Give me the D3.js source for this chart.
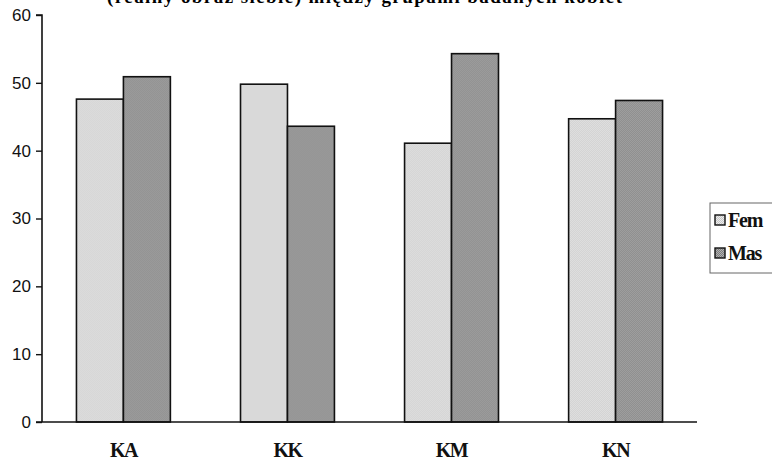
<!DOCTYPE html>
<html>
<head>
<meta charset="utf-8">
<script src="https://cdn.jsdelivr.net/npm/d3@7"></script>
<style>
  body { margin: 0; background: #fff; }
  svg { display: block; }
</style>
</head>
<body>
<div id="chart"></div>
<script>
// Chart data
const categories = ['KA', 'KK', 'KM', 'KN'];
const seriesNames = ['Fem', 'Mas'];
const femValues = [47.6, 49.8, 41.1, 44.7];
const masValues = [50.9, 43.6, 54.3, 47.4];
const yTicks = [0, 10, 20, 30, 40, 50, 60];
const titleText = '(realny obraz siebie) między grupami badanych kobiet';

const width = 772;
const height = 460;
const plot = { left: 42, right: 697, top: 15, bottom: 422 };

let svg = d3.select('#chart').append('svg')
  .attr('width', width)
  .attr('height', height);

// Dithered fills, like the scanned print
let defs = svg.append('defs');
function addDither(id, base, dot) {
  let p = defs.append('pattern')
    .attr('id', id)
    .attr('patternUnits', 'userSpaceOnUse')
    .attr('width', 2)
    .attr('height', 2);
  p.append('rect').attr('width', 2).attr('height', 2).attr('fill', base);
  p.append('rect').attr('width', 1).attr('height', 1).attr('fill', dot);
  p.append('rect').attr('x', 1).attr('y', 1).attr('width', 1).attr('height', 1).attr('fill', dot);
}
addDither('fem-fill', '#ececec', '#c6c6c6');
addDither('mas-fill', '#b2b2b2', '#7c7c7c');
const fills = ['url(#fem-fill)', 'url(#mas-fill)'];

// Scales
let x = d3.scaleBand()
  .domain(categories)
  .range([plot.left, plot.right])
  .paddingInner(0.4275)
  .paddingOuter(0.21);

let xSeries = d3.scaleBand()
  .domain(seriesNames)
  .range([0, x.bandwidth()]);

let y = d3.scaleLinear()
  .domain([0, 60])
  .range([plot.bottom, plot.top]);

// Title (cut off at the top edge in the source)
svg.append('text')
  .attr('x', 107)
  .attr('y', 3)
  .attr('textLength', 515)
  .attr('lengthAdjust', 'spacing')
  .style('font-family', '"Liberation Serif", "DejaVu Serif", serif')
  .style('font-weight', 'bold')
  .style('font-size', '19px')
  .text(titleText);

// Bars
const rows = categories.map((c, i) => ({ cat: c, values: [femValues[i], masValues[i]] }));

let groups = svg.append('g')
  .selectAll('g')
  .data(rows)
  .join('g')
  .attr('transform', d => 'translate(' + x(d.cat) + ',0)');

groups.selectAll('rect')
  .data(d => d.values.map((v, j) => ({ name: seriesNames[j], value: v, j: j })))
  .join('rect')
  .attr('x', d => xSeries(d.name))
  .attr('y', d => y(d.value))
  .attr('width', xSeries.bandwidth())
  .attr('height', d => y(0) - y(d.value))
  .attr('fill', d => fills[d.j])
  .attr('stroke', '#111')
  .attr('stroke-width', 1.6);

// Y axis
let yAxis = svg.append('g')
  .attr('transform', 'translate(' + plot.left + ',0)')
  .call(d3.axisLeft(y).tickValues(yTicks).tickSize(6).tickPadding(5).tickFormat(d3.format('d')));
yAxis.select('.domain')
  .attr('d', 'M-6,' + plot.top + 'H0V' + plot.bottom)
  .attr('stroke', '#111')
  .attr('stroke-width', 1.6);
yAxis.selectAll('.tick line').attr('stroke', '#111').attr('stroke-width', 1.4);
yAxis.selectAll('.tick text')
  .style('font-family', '"Liberation Sans", Arial, sans-serif')
  .style('font-size', '17px')
  .attr('fill', '#111');

// X axis
let xAxis = svg.append('g')
  .attr('transform', 'translate(0,' + plot.bottom + ')')
  .call(d3.axisBottom(x).tickSize(0).tickPadding(21));
xAxis.select('.domain')
  .attr('d', 'M' + (plot.left - 6) + ',0H' + plot.right)
  .attr('stroke', '#111')
  .attr('stroke-width', 1.6);
xAxis.selectAll('.tick text')
  .attr('dy', '0.71em')
  .style('font-family', '"Liberation Serif", serif')
  .style('font-weight', 'bold')
  .style('font-size', '20px')
  .style('letter-spacing', '-1.5px')
  .attr('fill', '#111');

// Legend
let legend = svg.append('g')
  .attr('transform', 'translate(710,203)');
legend.append('rect')
  .attr('x', 0)
  .attr('y', 0)
  .attr('width', 80)
  .attr('height', 70)
  .attr('fill', 'none')
  .attr('stroke', '#666')
  .attr('stroke-width', 1);

let items = legend.selectAll('.item')
  .data(seriesNames)
  .join('g')
  .attr('class', 'item')
  .attr('transform', (d, i) => 'translate(5,' + (12 + i * 33) + ')');
items.append('rect')
  .attr('width', 10)
  .attr('height', 10)
  .attr('fill', (d, i) => fills[i])
  .attr('stroke', '#111')
  .attr('stroke-width', 1.4);
items.append('text')
  .attr('x', 13)
  .attr('y', 12)
  .style('font-family', '"Liberation Serif", serif')
  .style('font-weight', 'bold')
  .style('font-size', '20px')
  .style('letter-spacing', '-1.2px')
  .attr('fill', '#111')
  .text(d => d);
</script>
</body>
</html>
